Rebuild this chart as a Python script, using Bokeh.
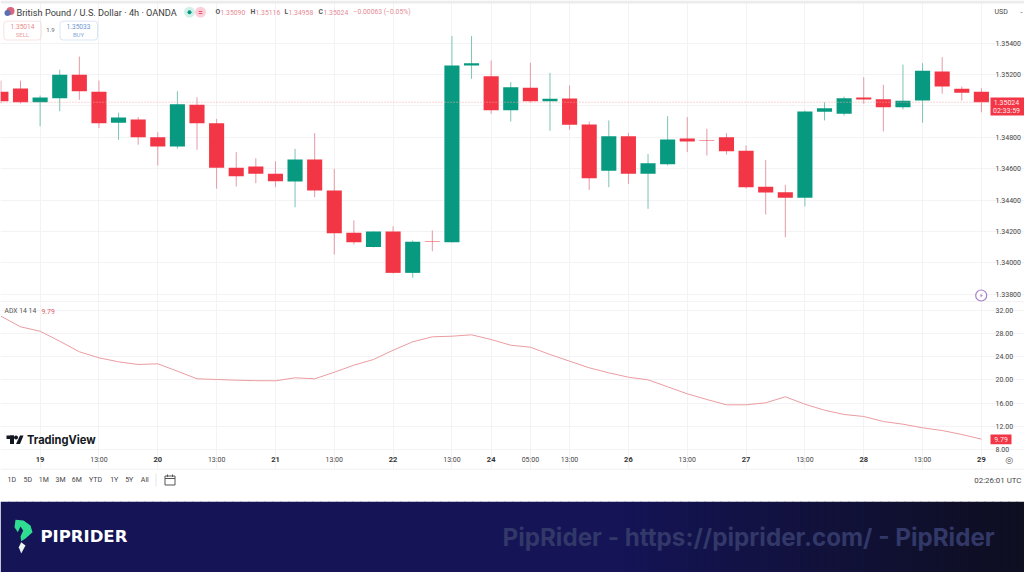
from bokeh.plotting import figure
from bokeh.layouts import column
from bokeh.models import (Range1d, FixedTicker, Grid, BoxAnnotation, LinearAxis,
                          NumeralTickFormatter, ColumnDataSource)
from bokeh.core.properties import value
from bokeh.embed import file_html
from bokeh.resources import INLINE

# ---------- data ----------
opens = [135090,135111,135024,135050,135199,135090,134893,134914,134801,134742,135008,134890,134606,134615,134568,134519,134659,134462,134192,134101,134201,133937,134137,134132,135258,135190,134973,135116,135031,135048,134882,134587,134808,134568,134629,134793,134780,134801,134715,134485,134451,134415,134963,134950,135054,135043,134992,135035,135220,135110,135090]
closes = [135031,135024,135054,135199,135094,134890,134927,134801,134742,135011,134890,134606,134553,134568,134521,134659,134462,134190,134132,134201,133937,134135,134134,135258,135273,134973,135120,135031,135046,134880,134540,134808,134568,134636,134787,134774,134777,134712,134483,134449,134415,134965,134986,135050,135041,134992,135033,135224,135124,135084,135024]
highs = [135162,135162,135067,135231,135315,135162,134957,134929,134833,135094,135056,134918,134706,134667,134648,134727,134827,134600,134271,134201,134234,134143,134207,135445,135445,135290,135152,135275,135211,135131,134901,134908,134829,134695,134935,134929,134855,134827,134748,134657,134498,134971,135024,135060,135183,135135,135264,135273,135311,135124,135113]
lows = [135016,135016,134871,134967,135039,134859,134785,134753,134621,134729,134721,134473,134487,134508,134483,134355,134419,134054,134118,134099,133933,133906,134075,134130,135173,134950,134901,135022,134842,134848,134466,134483,134504,134345,134621,134706,134685,134691,134474,134309,134164,134360,134908,134939,135014,134838,134978,134893,135078,135035,134960]
adx = [30.97,29.14,28.38,26.66,24.84,23.80,23.11,22.65,22.77,21.50,20.19,20.07,19.95,19.86,19.84,20.36,20.19,21.32,22.53,23.51,25.11,26.56,27.42,27.52,27.76,26.95,25.97,25.63,24.37,23.22,22.08,21.22,20.46,20.01,18.81,17.60,16.62,15.71,15.71,16.05,17.09,15.81,14.78,14.04,13.70,12.83,12.37,11.75,11.28,10.60,9.79]
hour_ticks = [5, 11, 17, 23, 27, 29, 35, 41, 47]
hour_labels = ["13:00","13:00","13:00","13:00","05:00","13:00","13:00","13:00","13:00"]
day_ticks = [2, 8, 14, 20, 25, 32, 38, 44, 50]
day_labels = ["19","20","21","22","24","26","27","28","29"]
price_ticks = [1.338,1.340,1.342,1.344,1.346,1.348,1.350,1.352,1.354]
adx_ticks = [8,12,16,20,24,28,32]
range_buttons = ["1D","5D","1M","3M","6M","YTD","1Y","5Y","All"]

UP, DOWN = "#089981", "#f23645"
UPW, DOWNW = "#7cc4b4", "#e39aa6"
GRID = "#f3f3f5"
TXT = "#454545"
FONT = "Roboto"

idx = list(range(len(opens)))
to_p = lambda v: [a / 100000 for a in v]
src = ColumnDataSource(dict(
    x=idx, o=to_p(opens), c=to_p(closes), h=to_p(highs), l=to_p(lows),
    color=[UP if c >= o else DOWN for o, c in zip(opens, closes)],
    wick=[UPW if c >= o else DOWNW for o, c in zip(opens, closes)],
    top=[max(o, c) / 100000 for o, c in zip(opens, closes)],
    bottom=[min(o, c) / 100000 for o, c in zip(opens, closes)],
))

# pixel helpers for furniture only
X = lambda x: (x - 0.4) / 19.61
PY = lambda y: 1.354 - (y - 42.7) * 6.37e-5
AY = lambda y: 32 - (y - 310.7) * 0.1722
x_range = Range1d(X(0), X(1024))

def base(h, yr, x_r=x_range):
    p = figure(width=1024, height=h, x_range=x_r, y_range=yr, output_backend="svg", toolbar_location=None,
               x_axis_location=None, y_axis_location=None, min_border=0, outline_line_color=None)
    p.grid.visible = False
    return p

def txt(p, x, y, s, size, color=TXT, style="normal", align="left", font=FONT):
    p.text([x], [y], text=[s], text_font=value(font), text_font_size=f"{size}px", text_color=color,
           text_font_style=style, text_align=align, text_baseline="middle")

def style_axis(a, fmt):
    a.formatter = NumeralTickFormatter(format=fmt)
    a.major_tick_line_color = None
    a.minor_tick_line_color = None
    a.axis_line_color = None
    a.major_label_standoff = 0
    a.major_label_text_font = FONT
    a.major_label_text_font_size = "7px"
    a.major_label_text_color = TXT

def grids(p, yticks, ybounds):
    p.add_layout(Grid(dimension=0, ticker=FixedTicker(ticks=sorted(hour_ticks + day_ticks)), grid_line_color=GRID, bounds=ybounds))
    p.add_layout(Grid(dimension=1, ticker=FixedTicker(ticks=yticks), grid_line_color=GRID, bounds=(X(0), X(989))))

# ---------- price pane ----------
pr = base(302, Range1d(PY(302), PY(0)))
grids(pr, price_ticks, (PY(302), PY(0)))
# the 1.35000 label is covered by the last-price tag in the reference
ax = LinearAxis(ticker=FixedTicker(ticks=[t for t in price_ticks if t != 1.350]), fixed_location=X(989))
style_axis(ax, "0.00000")
pr.add_layout(ax, "right")
pr.segment("x", "h", "x", "l", source=src, line_color="wick", line_width=1)
pr.vbar("x", 0.77, "top", "bottom", source=src, fill_color="color", line_color=None)
last = closes[-1] / 100000
pr.segment([X(0)], [last], [X(989)], [last], line_color="#f2a8a8", line_width=1, line_dash="1 2")

pr.quad(left=[X(990)], right=[X(1024)], top=[PY(97)], bottom=[PY(115)], fill_color="#f23645", line_color=None)
txt(pr, X(1006), PY(102), "1.35024", 7, "#fde6e8", "normal", "center")
txt(pr, X(1006), PY(110), "02:33:59", 7, "#fde6e8", "normal", "center")
txt(pr, X(994), PY(11.7), "USD", 7)
txt(pr, X(1020), PY(11.7), "-", 7)
pr.quad(left=[X(0)], right=[X(1024)], top=[PY(0)], bottom=[PY(3)], fill_color="#ececec", line_color=None)
pr.segment([X(0)], [PY(301.5)], [X(1024)], [PY(301.5)], line_color="#e6e6e6", line_width=1)

# header
pr.scatter([X(10)], [PY(10.5)], size=8, marker="circle", fill_color="#d9667a", line_color=None)
pr.scatter([X(7)], [PY(12.5)], size=6, marker="circle", fill_color="#5b6fb5", line_color=None)
txt(pr, X(16), PY(11.7), "British Pound / U.S. Dollar · 4h · OANDA", 9.2, "#3c3c3c")
pr.scatter([X(189)], [PY(11.7)], size=11, marker="circle", fill_color="#d2f0ea", line_color=None)
pr.scatter([X(200)], [PY(11.7)], size=11, marker="circle", fill_color="#fbd0da", line_color=None)
pr.scatter([X(189)], [PY(11.7)], size=4, marker="circle", fill_color="#089981", line_color=None)
txt(pr, X(200), PY(11.7), "=", 8, "#e8506a", "bold", "center")
PINK = "#e68a96"
for lx, letter, vx, val in ((215, "O", 220, "1.35090"), (250, "H", 255, "1.35116"),
                            (284, "L", 288, "1.34958"), (318, "C", 323, "1.35024")):
    txt(pr, X(lx), PY(11.7), letter, 6.8, "#555555", "bold")
    txt(pr, X(vx), PY(11.7), val, 6.8, PINK)
txt(pr, X(353), PY(11.7), "−0.00063 (−0.05%)", 6.8, PINK)

pr.add_layout(BoxAnnotation(left=X(3.3), right=X(40.7), top=PY(20.7), bottom=PY(39.5), fill_alpha=0,
                            line_color="#e8a0a0", line_width=1, border_radius=3))
pr.add_layout(BoxAnnotation(left=X(59.5), right=X(97), top=PY(20.7), bottom=PY(39.5), fill_alpha=0,
                            line_color="#8fa8d8", line_width=1, border_radius=3))
txt(pr, X(22), PY(26), "1.35014", 6.6, "#e88a8a", "normal", "center")
txt(pr, X(22), PY(34), "SELL", 6, "#eba0a0", "normal", "center")
txt(pr, X(50), PY(29.7), "1.9", 6, "#666666", "normal", "center")
txt(pr, X(78), PY(26), "1.35033", 6.6, "#6f95d0", "normal", "center")
txt(pr, X(78), PY(34), "BUY", 6, "#86a6d8", "normal", "center")

# lightning badge
pr.scatter([X(980.7)], [PY(295)], size=11, marker="circle", fill_color="#ffffff", line_color="#a77cc9", line_width=1.2)
txt(pr, X(980.7), PY(295), "⚡", 7, "#8d5fb5", "normal", "center", "DejaVu Sans")

# ---------- ADX pane ----------
ad = base(166, Range1d(AY(469), AY(303)))
grids(ad, adx_ticks, (AY(452), AY(303)))
ay = LinearAxis(ticker=FixedTicker(ticks=adx_ticks), fixed_location=X(989))
style_axis(ay, "0.00")
ad.add_layout(ay, "right")
tx = LinearAxis(ticker=FixedTicker(ticks=hour_ticks), fixed_location=AY(452),
                major_label_overrides=dict(zip(hour_ticks, hour_labels)))
tx.major_tick_line_color = None
tx.minor_tick_line_color = None
tx.axis_line_color = None
tx.major_label_standoff = -2
tx.major_label_text_font = FONT
tx.major_label_text_font_size = "7px"
tx.major_label_text_color = TXT
ad.add_layout(tx, "below")
ad.text(day_ticks, [AY(459.5)] * len(day_ticks), text=day_labels, text_font=value(FONT), text_font_size="7.5px",
        text_font_style="bold", text_color="#333333", text_align="center", text_baseline="middle")
ad.line(idx, adx, line_color="#eb9ca0", line_width=1)

ad.quad(left=[X(990)], right=[X(1011)], top=[AY(435)], bottom=[AY(444.7)], fill_color="#f23645", line_color=None)
txt(ad, X(1000.5), AY(440), "9.79", 7, "#fde6e8", "normal", "center")
txt(ad, X(1008.7), AY(460), "◎", 9, "#555555", "normal", "center", "DejaVu Sans")
txt(ad, X(4), AY(311.7), "ADX 14 14", 6.8, "#555555")
txt(ad, X(41), AY(311.7), "9.79", 6.8, "#e0606a")
# TradingView mark
ad.quad(left=[X(6), X(9.5)], right=[X(13.5), X(13.5)], top=[AY(436), AY(436)], bottom=[AY(439.5), AY(444.5)],
        fill_color="#131722", line_color=None)
ad.scatter([X(15.5)], [AY(438)], size=4, marker="circle", fill_color="#131722", line_color=None)
ad.patch([X(15.5), X(19.5), X(23), X(19.5)], [AY(444.5), AY(444.5), AY(436), AY(436)], fill_color="#131722", line_color=None)
txt(ad, X(26.5), AY(440), "TradingView", 11.1, "#131722", "bold", "left", "Inter")

# ---------- range bar ----------
bar = base(33, Range1d(501, 468), x_r=Range1d(0, 1024))
bar.segment([0], [468.5], [1024], [468.5], line_color="#ebebeb", line_width=1)
for cx, s in zip([11.3, 27.3, 43.3, 60, 76.3, 95, 113.7, 128.7, 144.3], range_buttons):
    txt(bar, cx, 479.5, s, 7, TXT, "normal", "center")
bar.segment([155.5], [473], [155.5], [486], line_color="#e6e6e6")
bar.quad(left=[164.5], right=[174.5], top=[475.5], bottom=[484.5], fill_alpha=0, line_color="#555555", line_width=1)
bar.segment([164.5], [478], [174.5], [478], line_color="#555555")
bar.segment([167, 172], [474, 474], [167, 172], [476.5, 476.5], line_color="#555555")
txt(bar, 1021, 479.5, "02:26:01 UTC", 7.9, TXT, "normal", "right")

# ---------- banner ----------
ban = base(71, Range1d(572, 501), x_r=Range1d(0, 1024))
L, R, cols = [], [], []
for k in range(128):
    x0 = k * 8
    t = 0 if x0 < 620 else (x0 - 620) / 404
    r = int(21 + (14 - 21) * t)
    g = int(20 + (15 - 20) * t)
    b = int(86 + (32 - 86) * t)
    L.append(x0); R.append(x0 + 9); cols.append(f"#{r:02x}{g:02x}{b:02x}")
ban.quad(left=L, right=R, top=[501] * 128, bottom=[572] * 128, fill_color=cols, line_color=None)
ban.patch([15, 23, 30, 32, 25, 20.7, 20, 22.7, 20, 17.3, 14],
          [519.3, 520, 525, 531.7, 538, 540.7, 536, 530, 526, 531.7, 526.7], fill_color="#2fdc92", line_color=None)
ban.patch([20.7, 25, 20.7, 18.3], [541.7, 545, 553, 546.7], fill_color="#e8f5ee", line_color=None)
txt(ban, 40, 536, "PIPRIDER", 16.5, "#ffffff", "bold", "left", "DejaVu Sans")
txt(ban, 502, 537, "PipRider - https://piprider.com/ - PipRider", 24.2, "#323868", "bold", "left", "Inter")

page = column(pr, ad, bar, ban, spacing=0, margin=0)
open("out.html", "w").write(file_html(page, INLINE))
